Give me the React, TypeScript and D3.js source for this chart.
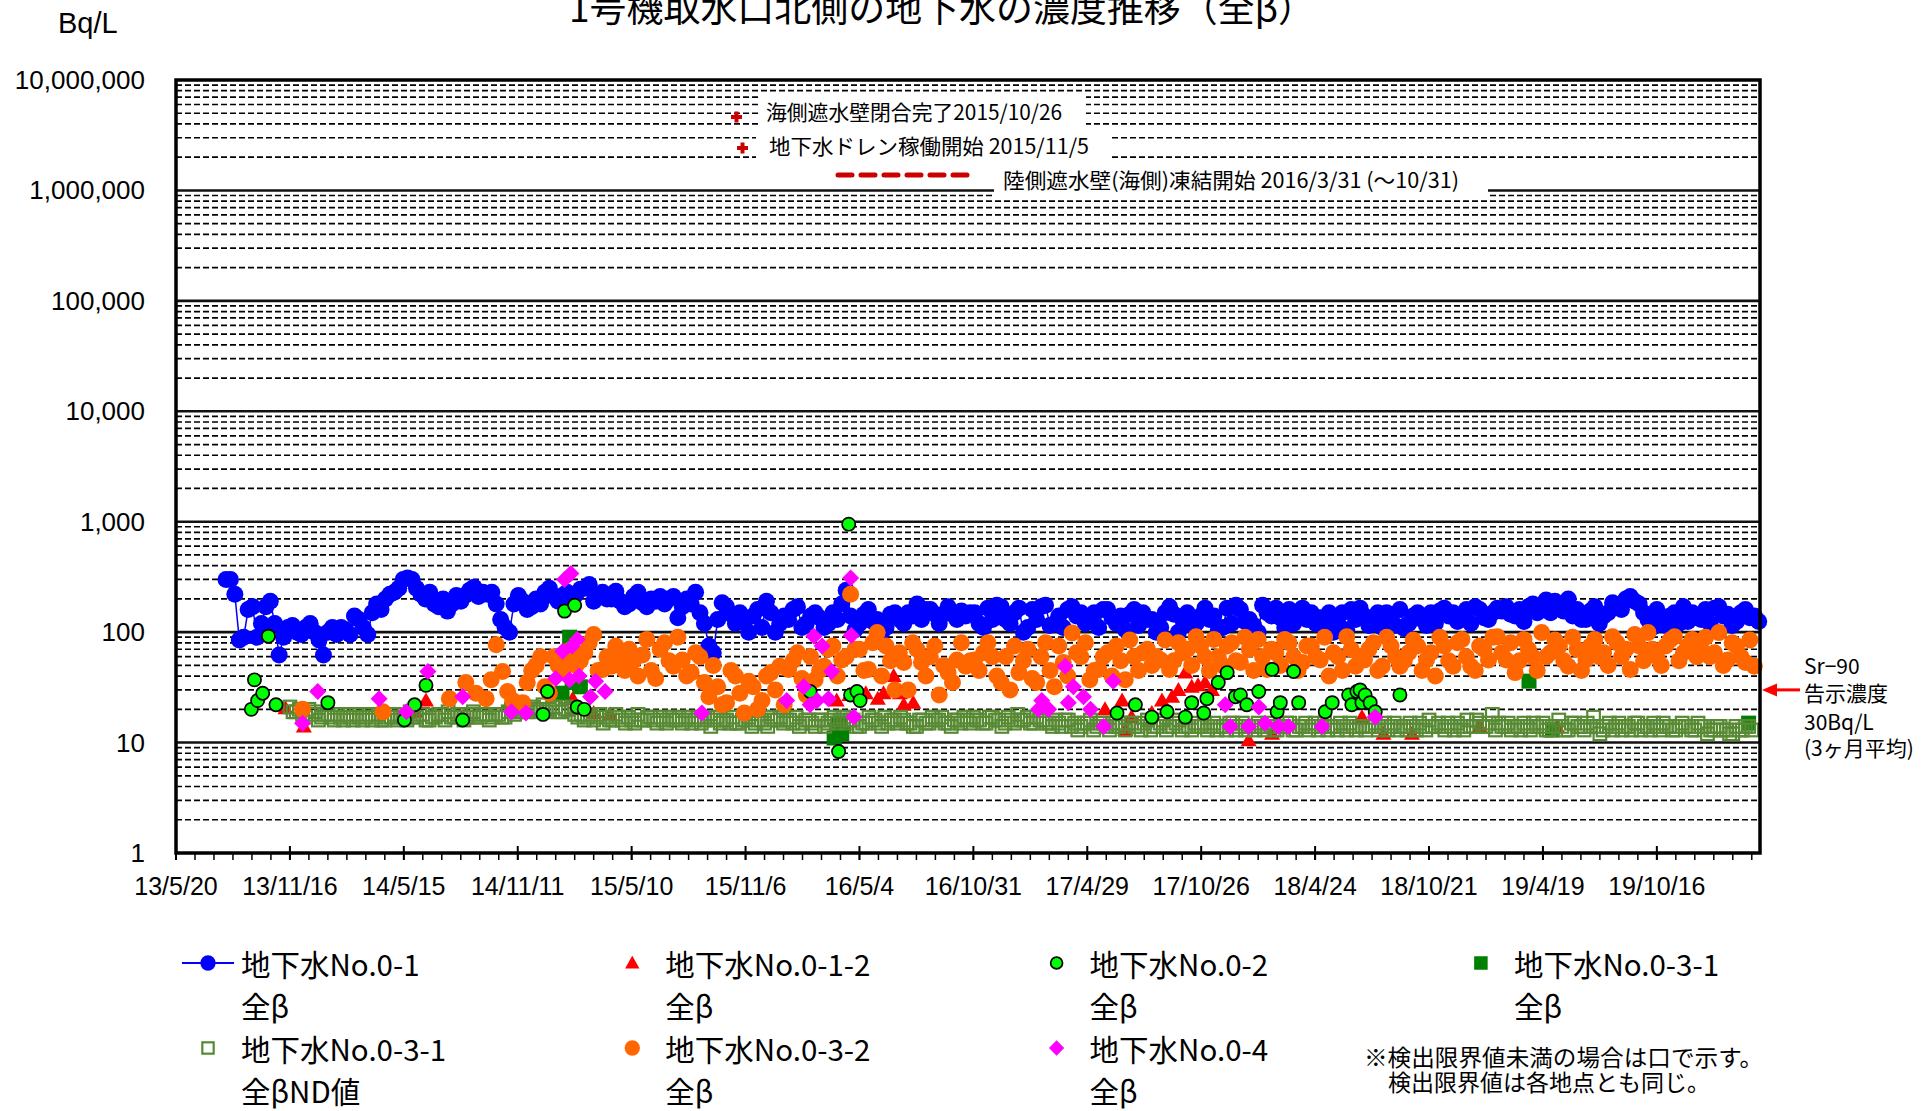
import React from "react";
import * as d3 from "d3";

const parseDate = d3.timeParse("%y/%m/%d");
const d = (s: string) => parseDate(s) as Date;

const title = "1号機取水口北側の地下水の濃度推移（全β）";
const unitLabel = "Bq/L";
const xStart = "13/5/20";
const xEnd = "20/3/27";
const xTickLabels = [
  "13/5/20", "13/11/16", "14/5/15", "14/11/11", "15/5/10", "15/11/6", "16/5/4",
  "16/10/31", "17/4/29", "17/10/26", "18/4/24", "18/10/21", "19/4/19", "19/10/16",
];
const yTickValues = [1, 10, 100, 1000, 10000, 100000, 1000000, 10000000];

// 地下水No.0-1 全β : samples every 14 days from 13/8/7, plus the in-between samples from 13/8/14
const no01Start = "13/8/7";
const no01StartB = "13/8/14";
const no01Step = 14;
const no01Values = [
  300, 220, 90, 170, 120, 190, 62, 110, 100, 110, 100, 62, 110, 110, 95, 130, 95, 180, 200, 230,
  300, 300, 220, 230, 170, 155, 215, 215, 255, 230, 230, 130, 100, 215, 160, 200, 230, 210, 215, 200,
  245, 270, 210, 200, 235, 170, 210, 185, 200, 210, 200, 135, 200, 230, 120, 65, 185, 145, 150, 100,
  160, 190, 100, 140, 160, 110, 140, 135, 120, 130, 240, 105, 145, 125, 100, 145, 130, 150, 180, 160,
  145, 145, 145, 155, 150,
  120, 165, 175, 130, 150, 100, 160, 170, 115, 140, 160, 140, 120, 150, 160, 135, 140, 145, 115, 130,
  100, 150, 145, 130, 115, 140, 130, 105, 165, 175, 125, 115, 175, 140, 135, 160, 140, 130, 120, 110,
  100, 150, 160, 165,
  115, 150, 150, 115, 108, 140, 130, 150, 155, 140, 125, 160, 170, 135, 150, 155, 145, 160, 170, 150,
  195, 190, 155, 140, 130, 155, 120, 150, 175, 200, 190, 150, 110, 140, 140, 120, 125, 135, 160, 165,
  140, 115, 150, 135, 125,
];
const no01ValuesB = [
  300, 85, 160, 90, 170, 120, 90, 115, 95, 120, 85, 100, 95, 105, 140, 110, 150, 160, 220, 250,
  310, 250, 200, 180, 200, 180, 190, 240, 210, 220, 180, 110, 180, 190, 170, 180, 250, 190, 230,
  220, 250, 190, 230, 200, 190, 180, 230, 170, 190, 180, 210, 170, 180, 150, 75, 130, 170, 120, 130,
  140, 110, 150, 120, 130, 170, 120, 150, 110, 150, 180, 140, 120, 160, 130, 110, 150, 120, 140, 130,
  160, 120, 170, 130, 140,
  150, 110, 130, 170, 120, 165, 110, 130, 175, 120, 110, 170, 150, 125, 110, 160, 120, 105, 160, 150,
  130, 110, 170, 100, 150, 120, 165, 140, 110, 120, 160, 130, 100, 150, 165, 110, 120, 165, 150, 135,
  150, 120, 105, 130,
  140, 120, 110, 140, 160, 120, 150, 115, 120, 165, 150, 140, 120, 160, 130, 165, 170, 140, 125, 180,
  160, 150, 175, 200, 160, 130, 170, 140, 185, 160, 210, 180, 130, 160, 115, 150, 170, 150, 130, 120,
  170, 145, 125, 160, 140,
];

// 地下水No.0-1-2 全β
const no012Points: [string, number][] = [
  ["13/11/9", 20.5], ["13/12/8", 14], ["14/6/3", 19], ["14/6/19", 24], ["14/10/29", 23],
  ["15/2/6", 25], ["15/2/11", 20], ["15/3/11", 18.5], ["15/4/6", 18], ["16/3/29", 24],
  ["16/4/18", 27], ["16/5/14", 28], ["16/6/2", 25], ["16/6/11", 28], ["16/6/27", 40],
  ["16/7/7", 28], ["16/7/13", 22], ["16/7/28", 23], ["17/5/27", 20], ["17/6/23", 24],
  ["17/6/28", 13], ["17/7/8", 17], ["17/8/9", 18.5], ["17/8/25", 24], ["17/9/10", 26],
  ["17/9/20", 30], ["17/10/1", 43], ["17/10/11", 32], ["17/10/21", 33], ["17/11/1", 35],
  ["17/11/12", 30], ["18/1/9", 10.5], ["18/2/15", 12], ["18/7/7", 17], ["18/8/10", 12],
  ["18/9/24", 12], ["19/1/9", 14], ["19/5/11", 14],
];

// 地下水No.0-2 全β
const no02Points: [string, number][] = [
  ["13/9/16", 20], ["13/9/21", 37], ["13/9/26", 24], ["13/10/4", 28], ["13/10/13", 92],
  ["13/10/25", 22], ["14/1/15", 23], ["14/5/16", 16], ["14/6/1", 22], ["14/6/19", 33],
  ["14/8/16", 16], ["14/12/21", 18], ["14/12/28", 29], ["15/1/24", 155], ["15/2/9", 175],
  ["15/2/13", 21], ["15/2/24", 20], ["16/2/16", 29], ["16/4/1", 8.3], ["16/4/17", 950],
  ["16/4/20", 27], ["16/4/30", 29], ["16/5/5", 24], ["17/6/15", 18.5], ["17/7/14", 22],
  ["17/8/9", 17], ["17/9/2", 19], ["17/10/1", 17], ["17/10/11", 23], ["17/10/30", 18.5],
  ["17/11/4", 25], ["17/11/22", 35], ["17/12/6", 43], ["17/12/19", 26], ["17/12/27", 27],
  ["18/1/6", 22], ["18/1/25", 29], ["18/2/15", 46], ["18/2/23", 19], ["18/2/28", 23],
  ["18/3/21", 44], ["18/3/29", 23], ["18/5/10", 19], ["18/5/21", 23], ["18/6/16", 27],
  ["18/6/21", 22], ["18/6/29", 29], ["18/7/4", 30], ["18/7/7", 23], ["18/7/12", 27],
  ["18/7/20", 23], ["18/7/28", 19], ["18/9/5", 27],
];

// 地下水No.0-3-1 全β
const no031Points: [string, number][] = [
  ["15/1/20", 28], ["15/2/1", 90], ["15/2/5", 35], ["15/2/18", 32], ["16/3/25", 11],
  ["16/3/29", 13], ["16/4/2", 15], ["16/4/6", 12], ["19/3/28", 36], ["19/5/4", 13],
  ["20/3/9", 15],
];

// 地下水No.0-3-1 全βND値 : every 10 days from 13/11/16, plus samples from 13/11/21
const no031NdStart = "13/11/16";
const no031NdStartB = "13/11/21";
const no031NdStep = 10;
const no031NdValues = [
  21, 19, 18, 20, 19, 17, 18, 16, 17, 18, 16, 17, 17, 16, 18, 16, 17, 16, 17, 19, 17, 18, 16,
  17, 18, 19, 17, 18, 17, 19, 17, 18, 17, 18, 17, 20, 19, 21, 20, 19, 22, 20, 21, 19, 20, 18,
  18, 17, 16, 18, 17, 16, 17, 15, 16, 18, 16, 17,
  15, 16, 17, 16, 15, 17, 16, 15, 17, 16, 15, 16,
  17, 15, 16, 14, 16, 15, 17, 16, 15, 16, 17, 15,
  16, 14, 16, 15, 17, 16, 15, 16, 14, 15, 16, 15,
  17, 16, 15, 16, 15, 14, 16, 15, 16, 17, 15, 16, 15, 16,
  17, 16, 15, 17, 16, 15, 16, 18, 16, 15, 17, 16,
  15, 16, 14, 16, 15, 14, 15, 13, 15, 14, 15, 14,
  13, 15, 14, 15, 13, 14, 16, 14, 15, 13, 14, 15,
  14, 13, 15, 14, 13, 15, 14, 13, 14, 15, 13, 14,
  13, 14, 15, 13, 14, 13, 15, 14, 13, 14, 15, 13, 14, 14,
  13, 14, 13, 15, 14, 13, 14, 15, 13, 14, 16, 14,
  14, 15, 13, 14, 16, 14, 15, 14, 18, 15, 14, 13,
  14, 15, 13, 14, 15, 13, 14, 14, 13, 15, 14, 15,
  17, 12, 14, 13, 15, 14, 13, 15, 14, 13, 14, 15,
  14, 13, 15, 14, 13, 14, 12, 13, 14, 13, 12, 13, 14, 13,
];
const no031NdValuesB = [
  19, 20, 17, 18, 16, 18, 17, 18, 16, 17, 18, 16, 18, 17, 16, 17, 18, 17, 16, 17, 18, 16, 17,
  18, 16, 17, 18, 16, 18, 17, 18, 16, 18, 17, 19, 18, 20, 19, 21, 20, 19, 21, 19, 20, 21, 17,
  16, 18, 17, 15, 16, 18, 16, 17, 15, 16, 17, 16,
  17, 15, 16, 17, 16, 15, 17, 16, 14, 17, 16, 15,
  15, 16, 17, 15, 16, 14, 16, 17, 16, 15, 14, 16,
  15, 16, 14, 16, 15, 17, 16, 14, 15, 17, 16, 14,
  15, 16, 17, 15, 14, 16, 15, 17, 16, 15, 14, 16, 17, 15,
  16, 15, 17, 16, 14, 17, 15, 16, 17, 15, 16, 15,
  14, 15, 16, 14, 13, 15, 16, 14, 15, 13, 14, 15,
  15, 14, 13, 16, 14, 15, 13, 14, 16, 14, 13, 14,
  15, 14, 13, 14, 15, 13, 15, 14, 13, 14, 15, 13,
  14, 15, 13, 14, 15, 14, 13, 15, 14, 13, 14, 15, 13, 14,
  14, 15, 14, 13, 15, 14, 13, 14, 15, 13, 14, 15,
  13, 14, 15, 13, 14, 16, 14, 15, 13, 14, 15, 14,
  13, 14, 15, 14, 13, 14, 16, 13, 15, 14, 13, 14,
  14, 13, 15, 14, 13, 14, 15, 13, 14, 15, 13, 14,
  13, 14, 14, 13, 15, 14, 13, 14, 13, 12, 14, 13, 14,
];

// 地下水No.0-3-2 全β
const no032Early: [string, number][] = [
  ["13/12/6", 20], ["14/4/12", 19], ["14/7/26", 25], ["14/8/21", 35], ["14/9/6", 28],
  ["14/9/22", 25], ["14/9/30", 37], ["14/10/8", 77], ["14/10/18", 44], ["14/10/26", 29],
  ["14/11/3", 24],
];
const no032Start = "14/11/19";
const no032StartB = "14/11/26";
const no032Step = 14;
const no032Values = [
  23, 45, 60, 28, 50, 55,
  50, 65, 95, 46, 49, 56, 70, 40, 86, 38, 80, 49, 56, 43, 60, 26, 32, 23, 40, 18.5, 32, 24, 43, 49,
  46, 65, 27, 37, 49, 75, 56, 220, 70, 46, 99, 75, 30, 53, 80, 53, 60, 27, 43, 56, 49,
  56, 65, 60, 35, 30, 43, 70, 35, 80, 32, 53, 98, 60, 37, 46, 65, 75, 37, 60, 65, 50, 56, 46, 80,
  70, 91, 60, 86, 50, 80, 53, 70, 86, 46, 65, 86, 60, 53, 75, 56, 40, 60, 91, 49,
  56, 80, 49, 75, 49, 65, 75, 56, 40, 75, 49, 86, 49, 75, 56, 91, 56, 43, 86, 60, 99, 65, 75, 49,
  70, 56, 86, 65, 91, 60, 46, 75, 99, 60, 75, 91, 65, 86, 70, 60, 99, 56, 75, 53, 49,
];
const no032ValuesB = [
  35, 50, 32, 60, 45, 70,
  55, 80, 45, 60, 75, 45, 55, 62, 45, 70, 55, 90, 40, 65, 35, 50, 22, 45, 28, 36, 20, 40, 30, 22,
  55, 38, 60, 45, 70, 40, 60, 70, 45, 80, 40, 55, 65, 30, 70, 40, 75, 50, 35, 80, 55,
  45, 80, 40, 60, 75, 55, 38, 60, 45, 75, 40, 65, 80, 45, 60, 40, 55, 85, 45, 70, 60, 85, 55, 65,
  50, 75, 45, 60, 75, 55, 90, 45, 60, 70, 50, 80, 45, 75, 60, 90, 65, 45, 70, 60,
  70, 45, 90, 60, 55, 85, 45, 65, 90, 55, 80, 60, 45, 70, 90, 65, 80, 55, 70, 45, 60, 85, 55, 90,
  45, 75, 60, 50, 80, 70, 95, 55, 70, 50, 85, 55, 75, 60, 90, 65, 50, 80, 60, 85,
];

// 地下水No.0-4 全β
const no04Points: [string, number][] = [
  ["13/12/6", 15], ["13/12/30", 29], ["14/4/6", 25], ["14/5/19", 19], ["14/6/22", 44],
  ["14/8/16", 26], ["14/11/1", 19], ["14/11/24", 18.5], ["15/1/10", 38], ["15/1/21", 67],
  ["15/1/24", 300], ["15/2/1", 37], ["15/2/3", 340], ["15/2/5", 75], ["15/2/13", 86],
  ["15/2/16", 40], ["15/3/6", 26], ["15/3/14", 36], ["15/3/29", 29], ["15/8/29", 18.5],
  ["16/1/10", 24], ["16/2/6", 32], ["16/2/16", 22], ["16/2/22", 92], ["16/2/27", 24],
  ["16/3/6", 75], ["16/3/16", 25], ["16/3/21", 44], ["16/4/20", 310], ["16/4/21", 93],
  ["16/4/25", 17], ["17/2/11", 20], ["17/2/16", 24], ["17/2/27", 20], ["17/3/25", 49],
  ["17/3/30", 23], ["17/4/7", 32], ["17/4/23", 26], ["17/5/4", 20], ["17/5/25", 14],
  ["17/6/9", 36], ["17/12/3", 22], ["17/12/11", 14], ["18/1/9", 14], ["18/1/25", 21],
  ["18/2/4", 15], ["18/2/25", 14], ["18/3/13", 14], ["18/5/5", 14], ["18/7/28", 17],
];

const eventLabels = [
  "海側遮水壁閉合完了2015/10/26",
  "地下水ドレン稼働開始  2015/11/5",
  "陸側遮水壁(海側)凍結開始  2016/3/31 (〜10/31)",
];
const limitLabel = ["Sr−90", "告示濃度", "30Bq/L", "(3ヶ月平均)"];
const limitValue = 30;
const noteLines = ["※検出限界値未満の場合は口で示す。", "検出限界値は各地点とも同じ。"];

const legendItems = [
  { name: "地下水No.0-1", sub: "全β", kind: "no01" },
  { name: "地下水No.0-1-2", sub: "全β", kind: "no012" },
  { name: "地下水No.0-2", sub: "全β", kind: "no02" },
  { name: "地下水No.0-3-1", sub: "全β", kind: "no031" },
  { name: "地下水No.0-3-1", sub: "全βND値", kind: "nd" },
  { name: "地下水No.0-3-2", sub: "全β", kind: "no032" },
  { name: "地下水No.0-4", sub: "全β", kind: "no04" },
];

interface Pt {
  date: Date;
  value: number;
}

const regular = (start: string, step: number, values: number[]): Pt[] =>
  values.map((v, i) => ({ date: d3.timeDay.offset(d(start), i * step), value: v }));
const listed = (pts: [string, number][]): Pt[] => pts.map(([s, v]) => ({ date: d(s), value: v }));
// merge two sample sets into date order
const merged = (a: Pt[], b: Pt[]) => [...a, ...b].sort((p, q) => +p.date - +q.date);

const latin = "'Liberation Sans', Arial, sans-serif";
const jp = "'Noto Sans CJK JP', 'Noto Sans CJK SC', sans-serif";

const C = {
  blue: "#0000ff",
  red: "#ff0000",
  green: "#00ff00",
  dark: "#008000",
  nd: "#578a33",
  orange: "#ff6600",
  magenta: "#ff00ff",
};

const TRI = "M0,-8L8,6L-8,6Z";
const DIA = "M0,-8.5L8.5,0L0,8.5L-8.5,0Z";

const Marker: React.FC<{ kind: string; cx: number; cy: number; s?: number }> = ({ kind, cx, cy, s = 1 }) => {
  const t = `translate(${cx},${cy}) scale(${s})`;
  switch (kind) {
    case "no01":
      return <circle cx={cx} cy={cy} r={8.5 * s} fill={C.blue} />;
    case "no012":
      return <path d={TRI} transform={t} fill={C.red} />;
    case "no02":
      return <circle cx={cx} cy={cy} r={6.6 * s} fill={C.green} stroke="#000" strokeWidth={1.7} />;
    case "no031":
      return <rect x={cx - 7.5 * s} y={cy - 7.5 * s} width={15 * s} height={15 * s} fill={C.dark} />;
    case "nd":
      return (
        <rect x={cx - 6.3 * s} y={cy - 6.3 * s} width={12.6 * s} height={12.6 * s} fill="none" stroke={C.nd} strokeWidth={2.2} />
      );
    case "no032":
      return <circle cx={cx} cy={cy} r={8.5 * s} fill={C.orange} />;
    default:
      return <path d={DIA} transform={t} fill={C.magenta} />;
  }
};

const App: React.FC = () => {
  const left = 176, right = 1760, top = 80, bottom = 853;
  const x = d3.scaleTime().domain([d(xStart), d(xEnd)]).range([left, right]);
  const y = d3.scaleLog().domain([1, 1e7]).range([bottom, top]);
  const fmt = d3.format(",");

  const no01 = merged(regular(no01Start, no01Step, no01Values), regular(no01StartB, no01Step, no01ValuesB));
  const no012 = listed(no012Points);
  const no02 = listed(no02Points);
  const no031 = listed(no031Points);
  const nd = merged(
    regular(no031NdStart, no031NdStep, no031NdValues),
    regular(no031NdStartB, no031NdStep, no031NdValuesB)
  );
  const no032 = merged(
    listed(no032Early),
    merged(regular(no032Start, no032Step, no032Values), regular(no032StartB, no032Step, no032ValuesB))
  );
  const no04 = listed(no04Points);

  const dashedGrid = d3.range(0, 7).flatMap((e) => d3.range(2, 10).map((k) => k * Math.pow(10, e)));
  const solidGrid = yTickValues.slice(1, -1);
  const totalDays = d3.timeDay.count(d(xStart), d(xEnd));
  const minorTicks = d3.range(0, totalDays + 1, 30).map((n) => d3.timeDay.offset(d(xStart), n));
  const line = d3
    .line<Pt>()
    .x((p) => x(p.date))
    .y((p) => y(p.value));

  const plotSeries = (pts: Pt[], kind: string) =>
    pts.map((p, i) => <Marker key={kind + i} kind={kind} cx={x(p.date)} cy={y(p.value)} />);

  const limitY = y(limitValue);

  return (
    <svg width={1930} height={1111} style={{ position: "absolute", left: 0, top: 0 }}>
      <rect width={1930} height={1111} fill="#fff" />
      <text x={569} y={22} textLength={746} lengthAdjust="spacingAndGlyphs" fontFamily={jp} fontSize={37}>
        {title}
      </text>
      <text x={58} y={33} fontFamily={latin} fontSize={29}>
        {unitLabel}
      </text>

      {/* grid */}
      {dashedGrid.map((v) => (
        <line key={"g" + v} x1={left} x2={right} y1={y(v)} y2={y(v)} stroke="#000" strokeWidth={1.7} strokeDasharray="6 3" />
      ))}
      {solidGrid.map((v) => (
        <line key={"s" + v} x1={left} x2={right} y1={y(v)} y2={y(v)} stroke="#111" strokeWidth={2.6} />
      ))}

      {/* event notes */}
      <rect x={759} y={94} width={327} height={36} fill="#fff" />
      <rect x={756} y={130} width={353} height={33} fill="#fff" />
      <rect x={994} y={163} width={494} height={37} fill="#fff" />
      <g fill="#cc0000">
        <rect x={731} y={115} width={11} height={4} />
        <rect x={734.5} y={111.5} width={4} height={11} />
        <rect x={737} y={146} width={11} height={4} />
        <rect x={740.5} y={142.5} width={4} height={11} />
      </g>
      <line x1={838} x2={970} y1={175} y2={175} stroke="#cc0000" strokeWidth={5} strokeDasharray="14 9" strokeLinecap="round" />
      <g fontFamily={jp} fontSize={21} style={{ whiteSpace: "pre" }}>
        <text x={766} y={119.5} textLength={296} lengthAdjust="spacingAndGlyphs">{eventLabels[0]}</text>
        <text x={769} y={154} textLength={320} lengthAdjust="spacingAndGlyphs">{eventLabels[1]}</text>
        <text x={1003} y={188} textLength={456} lengthAdjust="spacingAndGlyphs">{eventLabels[2]}</text>
      </g>

      {/* series */}
      <path d={line(no01) ?? ""} fill="none" stroke={C.blue} strokeWidth={1.5} />
      {plotSeries(no01, "no01")}
      {plotSeries(no012, "no012")}
      {plotSeries(no031, "no031")}
      {plotSeries(nd, "nd")}
      {plotSeries(no032, "no032")}
      {plotSeries(no02, "no02")}
      {plotSeries(no04, "no04")}

      {/* frame */}
      <rect x={left} y={top} width={right - left} height={bottom - top} fill="none" stroke="#000" strokeWidth={3.5} />

      {/* y axis labels */}
      {yTickValues.map((v) => (
        <text key={"yl" + v} x={145} y={y(v) + 9} textAnchor="end" fontFamily={latin} fontSize={26}>
          {fmt(v)}
        </text>
      ))}

      {/* x axis ticks */}
      {minorTicks.map((t, i) => (
        <line key={"mt" + i} x1={x(t)} x2={x(t)} y1={bottom} y2={bottom + 7} stroke="#000" strokeWidth={1.5} />
      ))}
      {xTickLabels.map((s) => (
        <g key={"xt" + s}>
          <line x1={x(d(s))} x2={x(d(s))} y1={bottom - 7} y2={bottom + 7} stroke="#000" strokeWidth={2} />
          <text x={x(d(s))} y={895} textAnchor="middle" fontFamily={latin} fontSize={25}>
            {s}
          </text>
        </g>
      ))}

      {/* limit note */}
      <line x1={1800} x2={1774} y1={limitY} y2={limitY} stroke={C.red} strokeWidth={3} />
      <path d={`M1762,${limitY}L1777,${limitY - 6.5}L1777,${limitY + 6.5}Z`} fill={C.red} />
      <g fontFamily={jp} fontSize={21}>
        {limitLabel.map((s, i) => (
          <text key={s} x={1804} y={666 + [0, 27, 56, 82][i] + 7.5}>
            {s}
          </text>
        ))}
      </g>

      {/* legend */}
      {legendItems.map((it, i) => {
        const col = i % 4;
        const row = Math.floor(i / 4);
        const tx = 241 + col * 424.3;
        const my = row === 0 ? 963 : 1048;
        const ty = row === 0 ? 965 : 1050;
        const ty2 = row === 0 ? 1007 : 1092;
        return (
          <g key={"lg" + i}>
            {it.kind === "no01" && <line x1={182} x2={234} y1={my} y2={my} stroke={C.blue} strokeWidth={2} />}
            <Marker kind={it.kind} cx={tx - 33} cy={my} s={0.9} />
            <text x={tx} y={ty + 10.5} fontFamily={jp} fontSize={29.5}>
              {it.name}
            </text>
            <text x={tx} y={ty2 + 10.5} fontFamily={jp} fontSize={29.5}>
              {it.sub}
            </text>
          </g>
        );
      })}
      <g fontFamily={jp} fontSize={23}>
        <text x={1364} y={1066} textLength={399} lengthAdjust="spacingAndGlyphs">{noteLines[0]}</text>
        <text x={1388} y={1091}>{noteLines[1]}</text>
      </g>
    </svg>
  );
};

export default App;
